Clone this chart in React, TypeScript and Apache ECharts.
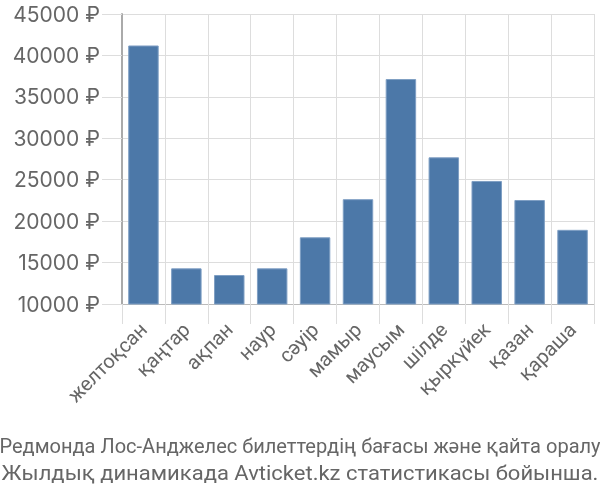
import React, { useEffect, useRef } from "react";
import * as echarts from "echarts";

const months = ["желтоқсан", "қаңтар", "ақпан", "наур", "сәуір", "мамыр", "маусым", "шілде", "қыркүйек", "қазан", "қараша"];
const prices = [41200, 14300, 13500, 14300, 18050, 22650, 37150, 27700, 24850, 22550, 18950];
const titleLines = ["Редмонда Лос-Анджелес билеттердің бағасы және қайта оралу", "Жылдық динамикада Avticket.kz статистикасы бойынша."];
const titleScale = [0.955, 1.048];

export default function App() {
  const ref = useRef<HTMLDivElement>(null);
  useEffect(() => {
    const chart = echarts.init(ref.current!, undefined, { renderer: "svg" });
    chart.setOption({
      animation: false,
      graphic: titleLines.map((t, i) => ({
        type: "text",
        x: 300,
        y: 446 + i * 27,
        scaleX: titleScale[i],
        style: {
          text: t,
          fontFamily: "Roboto",
          fontSize: 21,
          fill: "#666",
          align: "center",
          verticalAlign: "middle",
        },
      })),
      grid: { left: 122, right: 6, top: 14, bottom: 196, containLabel: false },
      xAxis: {
        type: "category",
        data: months,
        axisLine: { lineStyle: { color: "#bbb", width: 1 } },
        axisTick: { show: true, length: 20, lineStyle: { color: "#ddd" } },
        splitLine: { show: true, lineStyle: { color: "#ddd", width: 1 } },
        axisLabel: { rotate: 45, margin: 22, fontSize: 20, color: "#666", fontFamily: "Roboto", interval: 0 },
      },
      yAxis: {
        type: "value",
        min: 10000,
        max: 45000,
        interval: 5000,
        axisLine: { show: true, lineStyle: { color: "#aaa", width: 2 } },
        axisTick: { show: true, length: 20, lineStyle: { color: "#ddd" } },
        splitLine: { show: true, lineStyle: { color: "#ddd", width: 1 } },
        axisLabel: { margin: 22, fontSize: 21, color: "#666", fontFamily: "Inter", formatter: (v: number) => `${v} ₽` },
      },
      series: [
        {
          type: "bar",
          data: prices,
          barCategoryGap: "29%",
          itemStyle: { color: "#4c78a8", borderColor: "#7f9fc4", borderWidth: 1 },
        },
      ],
    });
    return () => chart.dispose();
  }, []);
  return <div ref={ref} style={{ position: "fixed", left: 0, top: 0, width: 600, height: 500 }} />;
}
